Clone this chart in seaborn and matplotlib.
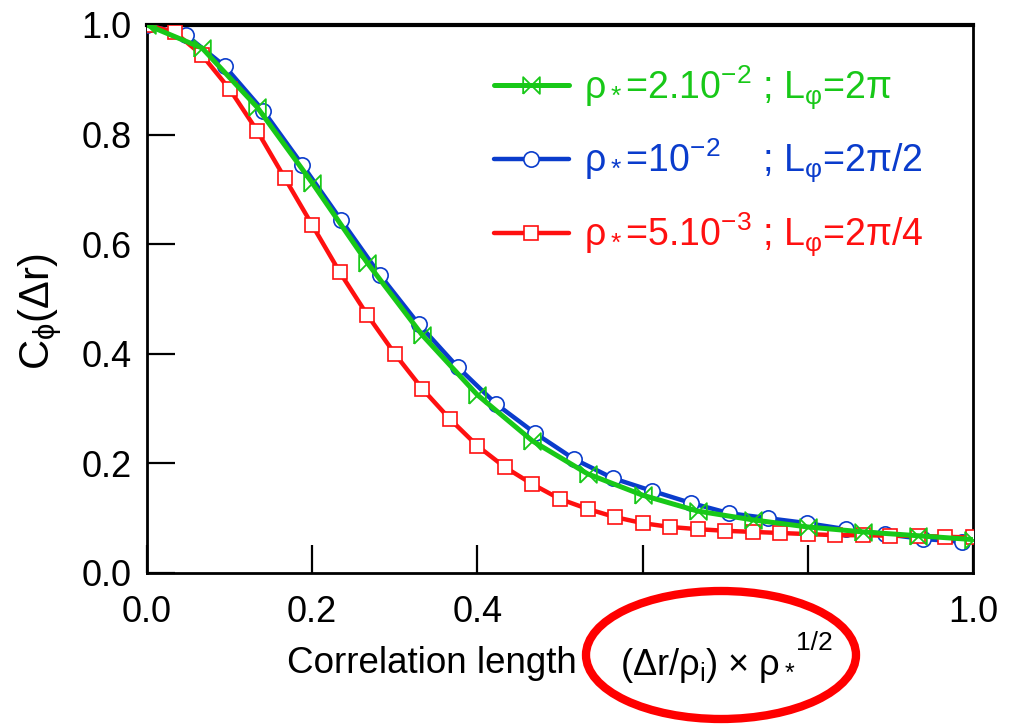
import numpy as np
import pandas as pd
import seaborn as sns
import matplotlib
matplotlib.use("Agg")
import matplotlib.pyplot as plt
from matplotlib.path import Path
from matplotlib.patches import Ellipse

# ---------------- data ----------------
red_x = [i / 30 for i in range(31)]
red_y = [1.0, 0.987, 0.945, 0.883, 0.807, 0.721, 0.635, 0.549, 0.471, 0.400,
         0.336, 0.281, 0.232, 0.193, 0.162, 0.135, 0.117, 0.102, 0.091, 0.084,
         0.080, 0.077, 0.075, 0.073, 0.071, 0.069, 0.069, 0.068, 0.068, 0.066,
         0.065]

blue_x = [0.0, 0.047, 0.094, 0.141, 0.188, 0.235, 0.282, 0.329, 0.376, 0.423,
          0.470, 0.517, 0.564, 0.611, 0.658, 0.705, 0.752, 0.799, 0.846, 0.893,
          0.940, 0.987]
blue_y = [1.0, 0.982, 0.925, 0.843, 0.745, 0.644, 0.544, 0.454, 0.376, 0.308,
          0.255, 0.208, 0.173, 0.150, 0.128, 0.109, 0.100, 0.091, 0.080, 0.071,
          0.062, 0.057]

green_x = [i / 15 for i in range(16)]
green_y = [1.0, 0.958, 0.850, 0.712, 0.566, 0.434, 0.325, 0.241, 0.181, 0.142,
           0.113, 0.097, 0.084, 0.075, 0.068, 0.061]

labels = [r"ρ$_*$=2.10$^{-2}$ ; L$_{φ}$=2π",
          r"ρ$_*$=10$^{-2}$    ; L$_{φ}$=2π/2",
          r"ρ$_*$=5.10$^{-3}$ ; L$_{φ}$=2π/4"]
xticks = [0.0, 0.2, 0.4, 0.6, 0.8, 1.0]
xticklabels = ["0.0", "0.2", "0.4", "", "", "1.0"]
yticks = [0.0, 0.2, 0.4, 0.6, 0.8, 1.0]
yticklabels = ["0.0", "0.2", "0.4", "0.6", "0.8", "1.0"]

GREEN = "#18c818"
BLUE = "#0a3ccc"
RED = "#ff1010"

# ---------------- style ----------------
sns.set_theme(style="white")
plt.rcParams["font.family"] = ["Liberation Sans", "DejaVu Sans"]
plt.rcParams["mathtext.fontset"] = "custom"
plt.rcParams["mathtext.rm"] = "Liberation Sans"
plt.rcParams["mathtext.it"] = "Liberation Sans"
plt.rcParams["mathtext.bf"] = "Liberation Sans:bold"
plt.rcParams["mathtext.default"] = "regular"
plt.rcParams["text.color"] = "black"
plt.rcParams["axes.labelcolor"] = "black"
plt.rcParams["xtick.color"] = "black"
plt.rcParams["ytick.color"] = "black"

fig = plt.figure(figsize=(10.18, 7.27), dpi=100)
ax = fig.add_axes([147 / 1018, 1 - 573 / 727, 826 / 1018, 548 / 727])

bowtie = Path([(-1, -1), (-1, 1), (1, -1), (1, 1), (-1, -1)],
              [Path.MOVETO, Path.LINETO, Path.LINETO, Path.LINETO, Path.LINETO])

df_b = pd.DataFrame({"x": blue_x, "y": blue_y})
df_r = pd.DataFrame({"x": red_x, "y": red_y})
df_g = pd.DataFrame({"x": green_x, "y": green_y})

sns.lineplot(data=df_b, x="x", y="y", ax=ax, color=BLUE, lw=3.2,
             marker="o", markersize=11, markerfacecolor="white",
             markeredgecolor=BLUE, markeredgewidth=1.2, zorder=3)
sns.lineplot(data=df_r, x="x", y="y", ax=ax, color=RED, lw=3.2,
             marker="s", markersize=10.5, markerfacecolor="white",
             markeredgecolor=RED, markeredgewidth=1.2, zorder=4)
sns.lineplot(data=df_g, x="x", y="y", ax=ax, color=GREEN, lw=3.6,
             marker=bowtie, markersize=12, markerfacecolor="none",
             markeredgecolor=GREEN, markeredgewidth=1.3, zorder=5)

lines = ax.get_lines()
handles = [lines[2], lines[0], lines[1]]
leg = ax.legend(handles, labels, loc="upper left", bbox_to_anchor=(0.42, 0.93),
                frameon=False, fontsize=27, handlelength=2.0,
                handletextpad=0.4, labelspacing=0.68, borderaxespad=0,
                borderpad=0)
for t, c in zip(leg.get_texts(), [GREEN, BLUE, RED]):
    t.set_color(c)

ax.set_xlim(0, 1.0)
ax.set_ylim(0, 1.0)
ax.set_xticks(xticks)
ax.set_xticklabels(xticklabels)
ax.set_yticks(yticks)
ax.set_yticklabels(yticklabels)
ax.set_xlabel("")
ax.set_ylabel("")
ax.tick_params(axis="both", direction="in", length=20, width=1.6,
               labelsize=26, colors="black", bottom=True, left=True)
ax.tick_params(axis="x", pad=16)
ax.tick_params(axis="y", pad=11)
for side, lw in [("left", 2.0), ("bottom", 2.0), ("right", 2.0), ("top", 3.0)]:
    ax.spines[side].set_visible(True)
    ax.spines[side].set_color("black")
    ax.spines[side].set_linewidth(lw)

# axis labels
fig.text(40 / 1018, 1 - 312 / 727, r"C$_{ϕ}$(Δr)", rotation=90,
         ha="center", va="center", fontsize=30)
fig.text(287 / 1018, 1 - 673 / 727, "Correlation length",
         ha="left", va="baseline", fontsize=26.5, zorder=1)

ell = Ellipse((721 / 1018, 1 - 655 / 727), 270 / 1018, 128 / 727,
              transform=fig.transFigure, facecolor="white", edgecolor="#ff0000",
              lw=6, zorder=2)
fig.add_artist(ell)
fig.text(620 / 1018, 1 - 675 / 727, r"(Δr/ρ$_\mathrm{i}$) × ρ$_*$",
         ha="left", va="baseline", fontsize=26, zorder=3)
fig.text(796 / 1018, 1 - 650 / 727, "1/2",
         ha="left", va="baseline", fontsize=19, zorder=3)

fig.savefig("out.png", dpi=100)
